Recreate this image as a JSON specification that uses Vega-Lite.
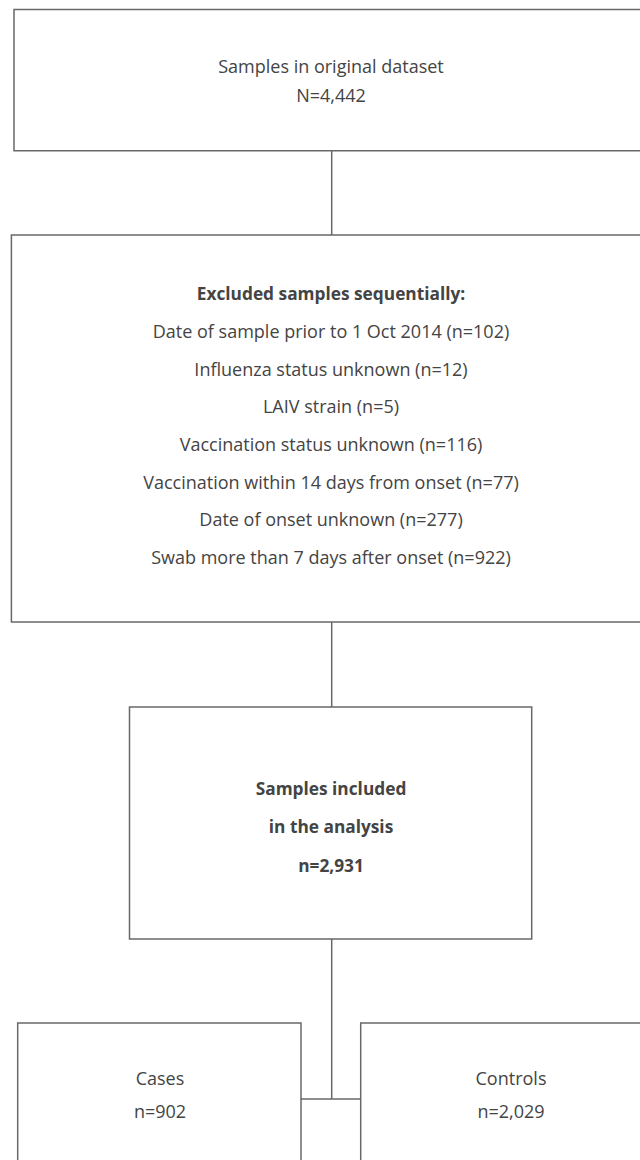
{
  "$schema": "https://vega.github.io/schema/vega-lite/v6.json",
  "width": 640,
  "height": 1160,
  "autosize": {"type": "none"},
  "padding": 0,
  "background": "white",
  "config": {"view": {"stroke": null}},
  "datasets": {
    "boxes": [
      {"x": 14, "x2": 660, "y": 9.5, "y2": 150.7},
      {"x": 11.4, "x2": 660, "y": 235, "y2": 622},
      {"x": 129.5, "x2": 531.7, "y": 707, "y2": 939},
      {"x": 17.7, "x2": 301, "y": 1023, "y2": 1190},
      {"x": 360.7, "x2": 660, "y": 1023, "y2": 1190}
    ],
    "links": [
      {"x": 331.7, "x2": 331.7, "y": 150.7, "y2": 235},
      {"x": 331.7, "x2": 331.7, "y": 622, "y2": 707},
      {"x": 331.7, "x2": 331.7, "y": 939, "y2": 1099},
      {"x": 301, "x2": 360.7, "y": 1099, "y2": 1099}
    ],
    "labels": [
      {"x": 331, "y": 68.3, "text": "Samples in original dataset", "bold": false},
      {"x": 331, "y": 96.7, "text": "N=4,442", "bold": false},
      {"x": 331, "y": 295, "text": "Excluded samples sequentially:", "bold": true},
      {"x": 331, "y": 333, "text": "Date of sample prior to 1 Oct 2014 (n=102)", "bold": false},
      {"x": 331, "y": 370.7, "text": "Influenza status unknown (n=12)", "bold": false},
      {"x": 331, "y": 408.3, "text": "LAIV strain (n=5)", "bold": false},
      {"x": 331, "y": 446, "text": "Vaccination status unknown (n=116)", "bold": false},
      {"x": 331, "y": 483.7, "text": "Vaccination within 14 days from onset (n=77)", "bold": false},
      {"x": 331, "y": 521.3, "text": "Date of onset unknown (n=277)", "bold": false},
      {"x": 331, "y": 559, "text": "Swab more than 7 days after onset (n=922)", "bold": false},
      {"x": 331, "y": 790, "text": "Samples included", "bold": true},
      {"x": 331, "y": 828, "text": "in the analysis", "bold": true},
      {"x": 331, "y": 867, "text": "n=2,931", "bold": true},
      {"x": 160, "y": 1080, "text": "Cases", "bold": false},
      {"x": 160, "y": 1113, "text": "n=902", "bold": false},
      {"x": 511, "y": 1080, "text": "Controls", "bold": false},
      {"x": 511, "y": 1113, "text": "n=2,029", "bold": false}
    ]
  },
  "encoding": {
    "x": {"field": "x", "type": "quantitative", "scale": {"domain": [0, 640], "nice": false, "zero": false}, "axis": null},
    "y": {"field": "y", "type": "quantitative", "scale": {"domain": [0, 1160], "nice": false, "zero": false, "reverse": true}, "axis": null}
  },
  "layer": [
    {
      "data": {"name": "boxes"},
      "mark": {"type": "rect", "fill": "white", "stroke": "#686868", "strokeWidth": 1.5, "clip": true},
      "encoding": {
        "x2": {"field": "x2"},
        "y2": {"field": "y2"}
      }
    },
    {
      "data": {"name": "links"},
      "mark": {"type": "rule", "stroke": "#686868", "strokeWidth": 1.5},
      "encoding": {
        "x2": {"field": "x2"},
        "y2": {"field": "y2"}
      }
    },
    {
      "data": {"name": "labels"},
      "transform": [{"filter": "!datum.bold"}],
      "mark": {"type": "text", "font": "Open Sans", "fontSize": 18, "fontWeight": 400, "color": "#444444", "align": "center", "baseline": "middle"},
      "encoding": {"text": {"field": "text"}}
    },
    {
      "data": {"name": "labels"},
      "transform": [{"filter": "datum.bold"}],
      "mark": {"type": "text", "font": "Open Sans", "fontSize": 17.3, "fontWeight": 700, "color": "#444444", "align": "center", "baseline": "middle"},
      "encoding": {"text": {"field": "text"}}
    }
  ]
}
